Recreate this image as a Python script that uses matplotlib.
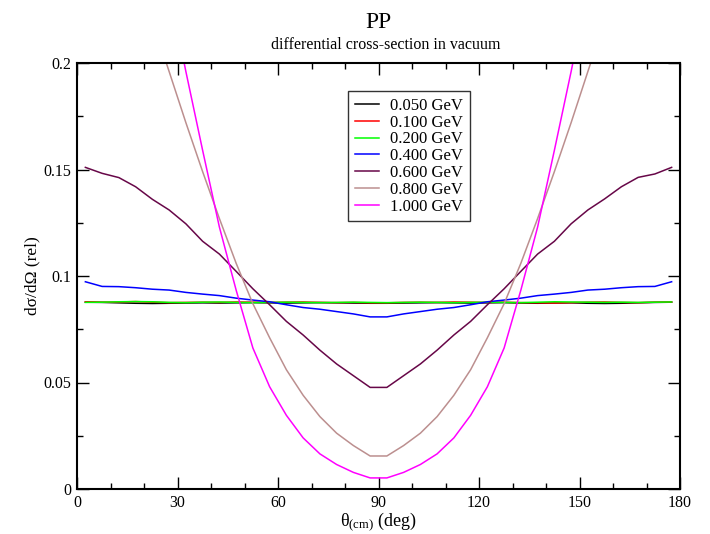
import matplotlib
matplotlib.use("Agg")
import matplotlib.pyplot as plt
from matplotlib.ticker import MultipleLocator, FuncFormatter

plt.rcParams['font.family'] = ['Liberation Serif', 'DejaVu Serif']
plt.rcParams['mathtext.fontset'] = 'custom'
plt.rcParams['mathtext.rm'] = 'Liberation Serif'
plt.rcParams['mathtext.it'] = 'Liberation Serif:italic'

theta = [2.5, 7.5, 12.5, 17.5, 22.5, 27.5, 32.5, 37.5, 42.5, 47.5, 52.5, 57.5,
         62.5, 67.5, 72.5, 77.5, 82.5, 87.5, 92.5, 97.5, 102.5, 107.5, 112.5, 117.5,
         122.5, 127.5, 132.5, 137.5, 142.5, 147.5, 152.5, 157.5, 162.5, 167.5, 172.5, 177.5]

labels = ["0.050 GeV", "0.100 GeV", "0.200 GeV", "0.400 GeV", "0.600 GeV", "0.800 GeV", "1.000 GeV"]

e050 = [0.0877, 0.0876, 0.0874, 0.0872, 0.0871, 0.0872, 0.0873, 0.0874, 0.0873, 0.0874, 0.0875, 0.0874,
        0.0873, 0.0874, 0.0875, 0.0874, 0.0873, 0.0872, 0.0872, 0.0873, 0.0874, 0.0875, 0.0874, 0.0873,
        0.0874, 0.0875, 0.0873, 0.0872, 0.0873, 0.0874, 0.0872, 0.0871, 0.0872, 0.0874, 0.0876, 0.0877]
e100 = [0.0879, 0.0877, 0.0878, 0.0880, 0.0877, 0.0875, 0.0876, 0.0877, 0.0876, 0.0878, 0.0877, 0.0876,
        0.0877, 0.0878, 0.0876, 0.0875, 0.0876, 0.0874, 0.0874, 0.0876, 0.0877, 0.0876, 0.0878, 0.0877,
        0.0876, 0.0877, 0.0875, 0.0874, 0.0873, 0.0875, 0.0877, 0.0878, 0.0876, 0.0875, 0.0877, 0.0878]
e200 = [0.0876, 0.0877, 0.0879, 0.0880, 0.0879, 0.0876, 0.0875, 0.0877, 0.0878, 0.0876, 0.0875, 0.0876,
        0.0877, 0.0876, 0.0875, 0.0876, 0.0877, 0.0876, 0.0875, 0.0876, 0.0877, 0.0876, 0.0875, 0.0876,
        0.0877, 0.0876, 0.0875, 0.0877, 0.0879, 0.0878, 0.0877, 0.0876, 0.0877, 0.0876, 0.0877, 0.0878]
e400 = [0.0973, 0.0951, 0.0950, 0.0945, 0.0938, 0.0934, 0.0923, 0.0915, 0.0908, 0.0896, 0.0887, 0.0879,
        0.0865, 0.0852, 0.0844, 0.0833, 0.0822, 0.0808, 0.0808, 0.0822, 0.0833, 0.0844, 0.0852, 0.0865,
        0.0879, 0.0887, 0.0896, 0.0908, 0.0915, 0.0923, 0.0934, 0.0938, 0.0945, 0.0950, 0.0951, 0.0973]
e600 = [0.1510, 0.1482, 0.1462, 0.1419, 0.1360, 0.1310, 0.1245, 0.1163, 0.1103, 0.1022, 0.0940, 0.0865,
        0.0787, 0.0723, 0.0652, 0.0587, 0.0532, 0.0477, 0.0477, 0.0532, 0.0587, 0.0652, 0.0723, 0.0787,
        0.0865, 0.0940, 0.1022, 0.1103, 0.1163, 0.1245, 0.1310, 0.1362, 0.1419, 0.1463, 0.1479, 0.1510]
e800 = [0.270, 0.265, 0.255, 0.240, 0.220, 0.196, 0.172, 0.149, 0.127, 0.106, 0.087, 0.071,
        0.056, 0.044, 0.034, 0.0262, 0.0204, 0.0155, 0.0155, 0.0204, 0.0262, 0.034, 0.044, 0.056,
        0.071, 0.087, 0.106, 0.127, 0.149, 0.172, 0.196, 0.220, 0.240, 0.255, 0.265, 0.270]
e1000 = [0.370, 0.360, 0.340, 0.310, 0.275, 0.235, 0.196, 0.159, 0.123, 0.0934, 0.0662, 0.048,
         0.0346, 0.024, 0.0165, 0.0115, 0.0078, 0.0052, 0.0052, 0.0078, 0.0115, 0.0165, 0.024, 0.0346,
         0.048, 0.0662, 0.0934, 0.123, 0.159, 0.196, 0.235, 0.275, 0.310, 0.340, 0.360, 0.370]

series = [e050, e100, e200, e400, e600, e800, e1000]
colors = ["#000000", "#ff0000", "#00ff00", "#0000ff", "#670748", "#bc8f8f", "#ff00ff"]

fig = plt.figure(figsize=(7.1, 5.34), dpi=100)
ax = fig.add_axes([77/710, 45/534, 603/710, 426/534])

for vals, c, lab in zip(series, colors, labels):
    ax.plot(theta, vals, color=c, lw=1.1, label=lab)

ax.set_xlim(0, 180)
ax.set_ylim(0, 0.2)
ax.xaxis.set_major_locator(MultipleLocator(30))
ax.xaxis.set_minor_locator(MultipleLocator(10))
ax.yaxis.set_major_locator(MultipleLocator(0.05))
ax.yaxis.set_minor_locator(MultipleLocator(0.025))
ax.yaxis.set_major_formatter(FuncFormatter(lambda v, p: ('%g' % round(v, 4))))
ax.tick_params(which='both', direction='in', top=True, right=True, color='black',
               labelsize=11.5, width=1.0)
ax.tick_params(which='major', length=8.5, pad=4)
ax.tick_params(which='minor', length=4.2)
for s in ax.spines.values():
    s.set_linewidth(1.5)

ax.set_xlabel(r'$\mathrm{θ}_{\mathrm{(cm)}}$ (deg)', fontsize=13, labelpad=0)
ax.set_ylabel('dσ/dΩ (rel)', fontsize=12.5, labelpad=2)

fig.text(378.5/710, 1 - 22/534, 'PP', ha='center', va='center', fontsize=17)
fig.text(386/710, 1 - 45/534, 'differential cross-section in vacuum', ha='center',
         va='center', fontsize=11.5)

leg = ax.legend(loc='upper left', bbox_to_anchor=((348-77)/603, (489-91)/426),
                fontsize=12, frameon=True, fancybox=False, handlelength=1.45,
                labelspacing=0.05, borderpad=0.4, handletextpad=0.7, borderaxespad=0)
leg.get_frame().set_edgecolor('black')
leg.get_frame().set_linewidth(1.0)

fig.savefig('out.png', dpi=100)
